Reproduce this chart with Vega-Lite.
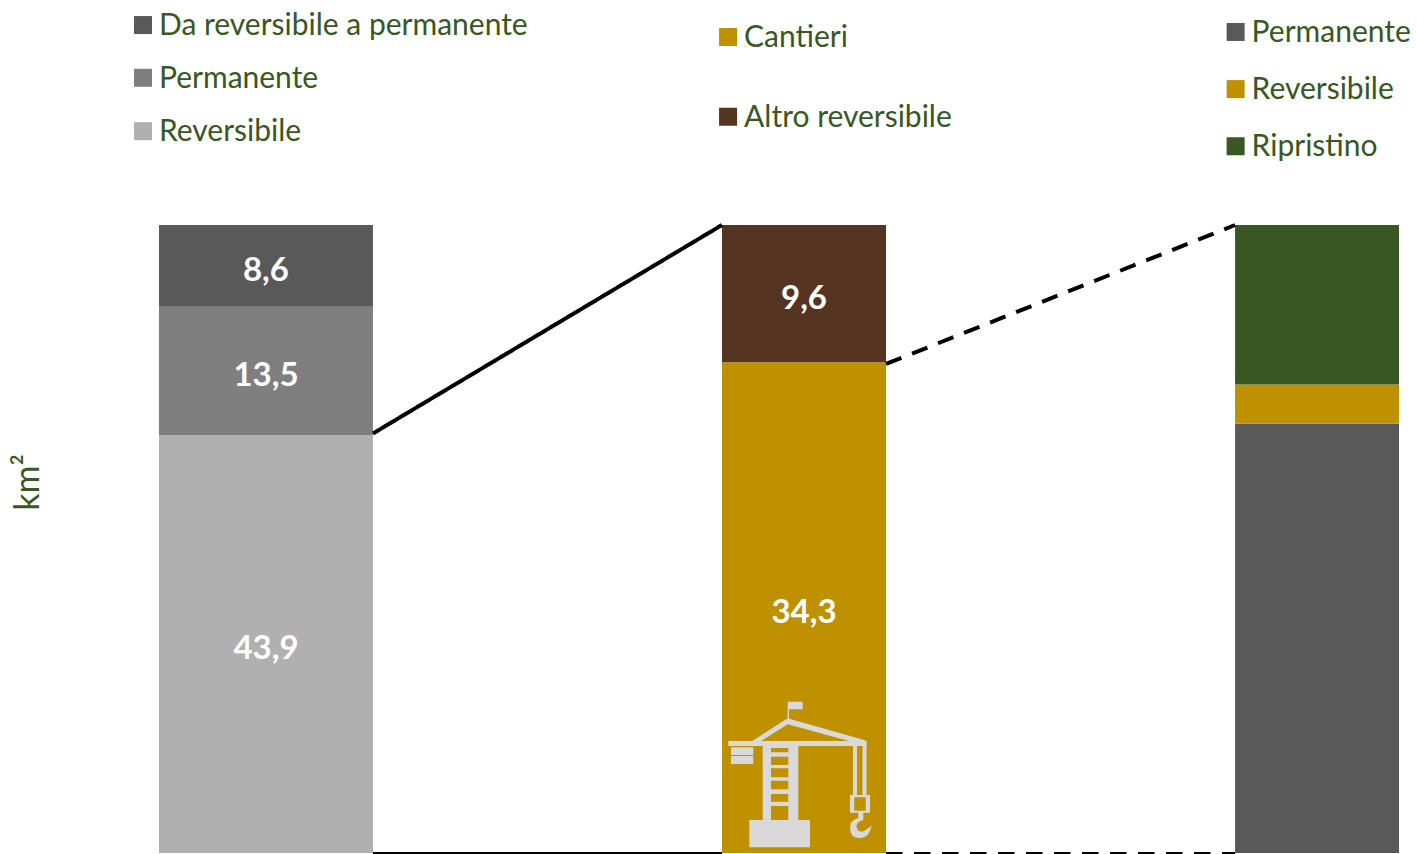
{"$schema":"https://vega.github.io/schema/vega-lite/v6.json","width":1417,"height":854,"padding":0,"autosize":{"type":"none"},"background":"white","config":{"view":{"stroke":null},"font":"Lato"},
"datasets":{
"segmenti":[
{"colonna":"Totale","centro":18.77,"da":11.22,"a":26.32,"serie":"T-Reversibile","segmento":"Reversibile","km2":43.9,"ordine":1,"etichetta":"43,9"},
{"colonna":"Totale","centro":18.77,"da":11.22,"a":26.32,"serie":"T-Permanente","segmento":"Permanente","km2":13.5,"ordine":2,"etichetta":"13,5"},
{"colonna":"Totale","centro":18.77,"da":11.22,"a":26.32,"serie":"T-Da reversibile a permanente","segmento":"Da reversibile a permanente","km2":8.6,"ordine":3,"etichetta":"8,6"},
{"colonna":"Reversibile","centro":56.74,"da":50.95,"a":62.53,"serie":"R-Cantieri","segmento":"Cantieri","km2":34.3,"ordine":1,"etichetta":"34,3"},
{"colonna":"Reversibile","centro":56.74,"da":50.95,"a":62.53,"serie":"R-Altro reversibile","segmento":"Altro reversibile","km2":9.6,"ordine":2,"etichetta":"9,6"},
{"colonna":"Altro","centro":92.94,"da":87.16,"a":98.73,"serie":"A-Permanente","segmento":"Permanente","km2":6.56,"ordine":1,"etichetta":""},
{"colonna":"Altro","centro":92.94,"da":87.16,"a":98.73,"serie":"A-Reversibile","segmento":"Reversibile","km2":0.6,"ordine":2,"etichetta":""},
{"colonna":"Altro","centro":92.94,"da":87.16,"a":98.73,"serie":"A-Ripristino","segmento":"Ripristino","km2":2.44,"ordine":3,"etichetta":""}
],
"connettori":[
{"linea":"t1","tratto":"continuo","peso":"spesso","x":26.32,"y":0.668},
{"linea":"t1","tratto":"continuo","peso":"spesso","x":50.95,"y":1},
{"linea":"t2","tratto":"tratteggiato","peso":"spesso","x":62.53,"y":0.7787},
{"linea":"t2","tratto":"tratteggiato","peso":"spesso","x":87.16,"y":1},
{"linea":"b1","tratto":"continuo","peso":"sottile","x":26.32,"y":0},
{"linea":"b1","tratto":"continuo","peso":"sottile","x":50.95,"y":0},
{"linea":"b2","tratto":"tratteggiato","peso":"sottile","x":62.53,"y":0},
{"linea":"b2","tratto":"tratteggiato","peso":"sottile","x":87.16,"y":0}
],
"legenda":[
{"serie":"T-Da reversibile a permanente","testo":"Da reversibile a permanente","x":10.09,"y":1.3184},
{"serie":"T-Permanente","testo":"Permanente","x":10.09,"y":1.2344},
{"serie":"T-Reversibile","testo":"Reversibile","x":10.09,"y":1.1494},
{"serie":"R-Cantieri","testo":"Cantieri","x":51.38,"y":1.2994},
{"serie":"R-Altro reversibile","testo":"Altro reversibile","x":51.38,"y":1.1724},
{"serie":"A-Permanente","testo":"Permanente","x":87.2,"y":1.3074},
{"serie":"A-Reversibile","testo":"Reversibile","x":87.2,"y":1.2164},
{"serie":"A-Ripristino","testo":"Ripristino","x":87.2,"y":1.1254}
],
"gru":[{"x":56.74,"y":0.1226}]
},
"encoding":{},
"resolve":{"scale":{"x":"shared","y":"shared"}},
"layer":[
{"data":{"name":"segmenti"},"transform":[{"stack":"km2","groupby":["colonna"],"sort":[{"field":"ordine","order":"ascending"}],"offset":"normalize","as":["y0","y1"]}],"mark":{"type":"bar","strokeWidth":0},
"encoding":{
"x":{"field":"da","type":"quantitative","scale":{"domain":[0,100],"nice":false,"zero":false},"axis":null},
"x2":{"field":"a"},
"y":{"field":"y0","type":"quantitative","scale":{"domain":[-0.0016,1.3583],"nice":false,"zero":false},
"axis":{"title":"km²","domain":false,"ticks":false,"labels":false,"grid":false,"titleColor":"#385723","titleFont":"Lato","titleFontSize":34,"titleFontWeight":"normal","titleX":28,"titleY":482,"titleAngle":270,"titleAlign":"center","titleBaseline":"middle"}},
"y2":{"field":"y1"},
"color":{"field":"serie","type":"nominal","legend":null,"scale":{
"domain":["T-Da reversibile a permanente","T-Permanente","T-Reversibile","R-Cantieri","R-Altro reversibile","A-Permanente","A-Reversibile","A-Ripristino"],
"range":["#595959","#7F7F7F","#B0B0B0","#BF9000","#553522","#595959","#BF9000","#385723"]}}}},
{"data":{"name":"gru"},"mark":{"type":"point","filled":true,"opacity":1,"size":4,"color":"#D9D9D9","strokeWidth":0,
"shape":"M-16.3 -74.3H-1.3V-66.7H-15V-55.3H-16.3Z M-53 -34.3L-16.3 -57.7L62.7 -35.3L47.7 -34.3L-16.3 -51.7L-44 -34.3Z M-75.7 -35H62.7V-30H-75.7Z M-73 -28.7H-50.7V-21H-73Z M-73 -20H-50.7V-12H-73Z M-41.3 -30.3H-5.7V44H-41.3Z M-33 -28V-23.7H-15.7V-28Z M-33 -19.3V-11H-15.7V-19.3Z M-33 -7.7V1.3H-15.7V-7.7Z M-33 4.7V13.3H-15.7V4.7Z M-33 18V25.7H-15.7V18Z M-33 30V44H-15.7V30Z M-54.7 44H6V71.3H-54.7Z M49 -30.3H53V19H49Z M58.5 -30.3H62.5V19H58.5Z M46 19H66V36.7H46Z M50.3 21.3V34.7H61.7V21.3Z M54.3 36.7H59.3V44Q52 46 52.5 51Q54 57 60 55L67.7 50Q65 62 56 62.3Q46 62 46 52Q46 44 54.3 42Z"},
"encoding":{"x":{"field":"x","type":"quantitative","scale":{"domain":[0,100],"nice":false,"zero":false}},"y":{"field":"y","type":"quantitative","scale":{"domain":[-0.0016,1.3583],"nice":false,"zero":false}}}},
{"data":{"name":"connettori"},"mark":{"type":"line","color":"#000000","strokeCap":"butt"},
"encoding":{"x":{"field":"x","type":"quantitative","scale":{"domain":[0,100],"nice":false,"zero":false}},"y":{"field":"y","type":"quantitative","scale":{"domain":[-0.0016,1.3583],"nice":false,"zero":false}},"detail":{"field":"linea"},
"strokeDash":{"field":"tratto","type":"nominal","legend":null,"scale":{"domain":["continuo","tratteggiato"],"range":[[1,0],[16.5,11.5]]}},
"size":{"field":"peso","type":"nominal","legend":null,"scale":{"domain":["spesso","sottile"],"range":[4,1.8]}}}},
{"data":{"name":"segmenti"},"transform":[{"stack":"km2","groupby":["colonna"],"sort":[{"field":"ordine","order":"ascending"}],"offset":"normalize","as":["y0","y1"]},{"fold":["y0","y1"],"as":["estremo","posizione"]}],"mark":{"type":"text","color":"white","font":"Lato","fontWeight":"bold","fontSize":33,"baseline":"middle","align":"center","dy":5},
"encoding":{"x":{"field":"centro","type":"quantitative","scale":{"domain":[0,100],"nice":false,"zero":false}},
"y":{"aggregate":"mean","field":"posizione","type":"quantitative","scale":{"domain":[-0.0016,1.3583],"nice":false,"zero":false}},
"detail":{"field":"serie"},"text":{"field":"etichetta"}}},
{"data":{"name":"legenda"},"mark":{"type":"point","shape":"square","filled":true,"opacity":1,"size":324,"strokeWidth":0},
"encoding":{"x":{"field":"x","type":"quantitative","scale":{"domain":[0,100],"nice":false,"zero":false}},"y":{"field":"y","type":"quantitative","scale":{"domain":[-0.0016,1.3583],"nice":false,"zero":false}},"color":{"field":"serie","type":"nominal","legend":null}}},
{"data":{"name":"legenda"},"mark":{"type":"text","color":"#385723","font":"Lato","fontSize":30,"align":"left","baseline":"middle","dx":16,"dy":1},
"encoding":{"x":{"field":"x","type":"quantitative","scale":{"domain":[0,100],"nice":false,"zero":false}},"y":{"field":"y","type":"quantitative","scale":{"domain":[-0.0016,1.3583],"nice":false,"zero":false}},"text":{"field":"testo"}}}
]}
